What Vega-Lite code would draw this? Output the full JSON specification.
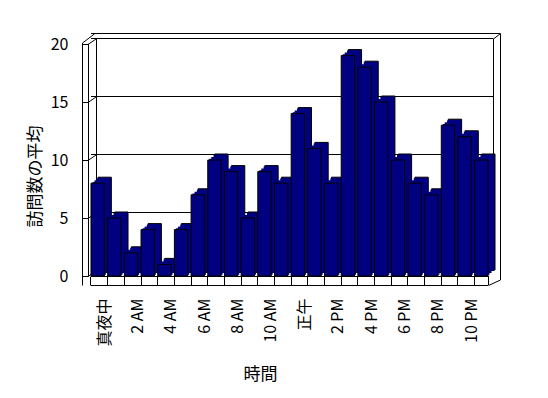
{
  "$schema": "https://vega.github.io/schema/vega-lite/v6.json",
  "width": 397,
  "height": 232,
  "autosize": {"type": "none"},
  "padding": {"left": 91, "top": 44, "right": 60, "bottom": 122},
  "background": "white",
  "config": {"view": {"stroke": null}, "font": "Noto Sans CJK JP"},
  "datasets": {
    "visits": [
      {"時刻": "真夜中", "訪問数": 8},
      {"時刻": "1 AM", "訪問数": 5},
      {"時刻": "2 AM", "訪問数": 2},
      {"時刻": "3 AM", "訪問数": 4},
      {"時刻": "4 AM", "訪問数": 1},
      {"時刻": "5 AM", "訪問数": 4},
      {"時刻": "6 AM", "訪問数": 7},
      {"時刻": "7 AM", "訪問数": 10},
      {"時刻": "8 AM", "訪問数": 9},
      {"時刻": "9 AM", "訪問数": 5},
      {"時刻": "10 AM", "訪問数": 9},
      {"時刻": "11 AM", "訪問数": 8},
      {"時刻": "正午", "訪問数": 14},
      {"時刻": "1 PM", "訪問数": 11},
      {"時刻": "2 PM", "訪問数": 8},
      {"時刻": "3 PM", "訪問数": 19},
      {"時刻": "4 PM", "訪問数": 18},
      {"時刻": "5 PM", "訪問数": 15},
      {"時刻": "6 PM", "訪問数": 10},
      {"時刻": "7 PM", "訪問数": 8},
      {"時刻": "8 PM", "訪問数": 7},
      {"時刻": "9 PM", "訪問数": 13},
      {"時刻": "10 PM", "訪問数": 12},
      {"時刻": "11 PM", "訪問数": 10}
    ],
    "grid": [{"v": 0}, {"v": 5}, {"v": 10}, {"v": 15}, {"v": 20}],
    "one": [{"k": 1}]
  },
  "layer": [
    {
      "data": {"name": "visits"},
      "mark": {"type": "bar", "fill": "#000080", "stroke": "black", "strokeWidth": 1, "opacity": 0},
      "encoding": {
        "x": {
          "field": "時刻",
          "type": "nominal",
          "sort": null,
          "scale": {
            "domain": ["真夜中", "1 AM", "2 AM", "3 AM", "4 AM", "5 AM", "6 AM", "7 AM", "8 AM", "9 AM", "10 AM", "11 AM", "正午", "1 PM", "2 PM", "3 PM", "4 PM", "5 PM", "6 PM", "7 PM", "8 PM", "9 PM", "10 PM", "11 PM"],
            "paddingInner": 0.2,
            "paddingOuter": 0
          },
          "axis": {
            "title": "時間",
            "titleFontSize": 17,
            "titleFontWeight": "normal",
            "titleColor": "black",
            "titleX": 169,
            "titleY": 89,
            "titleAnchor": null,
            "titleAlign": "center",
            "titleBaseline": "middle",
            "offset": 9,
            "domain": false,
            "bandPosition": 0,
            "tickSize": -9,
            "tickColor": "black",
            "labelAngle": -90,
            "labelAlign": "right",
            "labelBaseline": "middle",
            "labelOffset": 7,
            "labelPadding": 22,
            "labelFontSize": 16,
            "labelColor": "black",
            "labelExpr": "indexof(['1 AM','3 AM','5 AM','7 AM','9 AM','11 AM','1 PM','3 PM','5 PM','7 PM','9 PM','11 PM'], datum.value) >= 0 ? '' : datum.value"
          }
        },
        "y": {
          "field": "訪問数",
          "type": "quantitative",
          "scale": {"domain": [0, 20]},
          "axis": {
            "title": "訪問数の平均",
            "titleFontSize": 17,
            "titleFontWeight": "normal",
            "titleColor": "black",
            "titlePadding": 6,
            "titleY": 132,
            "offset": 9,
            "domain": false,
            "grid": false,
            "values": [0, 5, 10, 15, 20],
            "tickSize": -6,
            "tickColor": "black",
            "labelPadding": 20,
            "labelFontSize": 16,
            "labelColor": "black"
          }
        }
      }
    },
    {
      "data": {"name": "grid"},
      "mark": {"type": "rule", "color": "black", "strokeWidth": 1, "xOffset": 5, "x2Offset": 5, "yOffset": -5.5},
      "encoding": {
        "y": {"field": "v", "type": "quantitative"}
      }
    },
    {
      "data": {"name": "grid"},
      "mark": {"type": "rule", "color": "black", "strokeWidth": 1, "xOffset": -3, "x2Offset": 5, "yOffset": 0.5, "y2Offset": -5},
      "encoding": {
        "x": {"datum": "真夜中", "type": "nominal", "bandPosition": 0},
        "x2": {"datum": "真夜中", "bandPosition": 0},
        "y": {"field": "v", "type": "quantitative"},
        "y2": {"field": "v"}
      }
    },
    {
      "data": {"name": "one"},
      "mark": {"type": "rule", "color": "black", "strokeWidth": 1, "xOffset": -8.5, "yOffset": 9.5, "y2Offset": -1},
      "encoding": {
        "x": {"datum": "真夜中", "type": "nominal", "bandPosition": 0},
        "y": {"datum": 0, "type": "quantitative"},
        "y2": {"datum": 20}
      }
    },
    {
      "data": {"name": "one"},
      "mark": {"type": "rule", "color": "black", "strokeWidth": 1, "xOffset": -2.5},
      "encoding": {
        "x": {"datum": "真夜中", "type": "nominal", "bandPosition": 0},
        "y": {"datum": 0, "type": "quantitative"},
        "y2": {"datum": 20}
      }
    },
    {
      "data": {"name": "one"},
      "mark": {"type": "rule", "color": "black", "strokeWidth": 1, "xOffset": 5.5, "yOffset": -5, "y2Offset": -5.5},
      "encoding": {
        "x": {"datum": "真夜中", "type": "nominal", "bandPosition": 0},
        "y": {"datum": 0, "type": "quantitative"},
        "y2": {"datum": 20}
      }
    },
    {
      "data": {"name": "one"},
      "mark": {"type": "rule", "color": "black", "strokeWidth": 1, "xOffset": 5.5, "yOffset": -5, "y2Offset": -5.5},
      "encoding": {
        "x": {"datum": "11 PM", "type": "nominal", "bandPosition": 1},
        "y": {"datum": 0, "type": "quantitative"},
        "y2": {"datum": 20}
      }
    },
    {
      "data": {"name": "one"},
      "mark": {"type": "rule", "color": "black", "strokeWidth": 1, "xOffset": 12.5, "yOffset": 4, "y2Offset": -10.5},
      "encoding": {
        "x": {"datum": "11 PM", "type": "nominal", "bandPosition": 1},
        "y": {"datum": 0, "type": "quantitative"},
        "y2": {"datum": 20}
      }
    },
    {
      "data": {"name": "one"},
      "mark": {"type": "rule", "color": "black", "strokeWidth": 1, "xOffset": 0.5, "yOffset": 0, "y2Offset": 9},
      "encoding": {
        "x": {"datum": "11 PM", "type": "nominal", "bandPosition": 1},
        "y": {"datum": 0, "type": "quantitative"},
        "y2": {"datum": 0}
      }
    },
    {
      "data": {"name": "one"},
      "mark": {"type": "rule", "color": "black", "strokeWidth": 1, "xOffset": 0.5, "x2Offset": 12.5, "yOffset": 9.5, "y2Offset": 4},
      "encoding": {
        "x": {"datum": "11 PM", "type": "nominal", "bandPosition": 1},
        "x2": {"datum": "11 PM", "bandPosition": 1},
        "y": {"datum": 0, "type": "quantitative"},
        "y2": {"datum": 0}
      }
    },
    {
      "data": {"name": "one"},
      "mark": {"type": "rule", "color": "black", "strokeWidth": 1, "xOffset": 5.5, "x2Offset": 12.5, "yOffset": -5, "y2Offset": -10.5},
      "encoding": {
        "x": {"datum": "11 PM", "type": "nominal", "bandPosition": 1},
        "x2": {"datum": "11 PM", "bandPosition": 1},
        "y": {"datum": 20, "type": "quantitative"},
        "y2": {"datum": 20}
      }
    },
    {
      "data": {"name": "one"},
      "mark": {"type": "rule", "color": "black", "strokeWidth": 1, "xOffset": 12, "x2Offset": 4, "yOffset": -10.5},
      "encoding": {
        "y": {"datum": 20, "type": "quantitative"}
      }
    },
    {
      "data": {"name": "one"},
      "mark": {"type": "rule", "color": "black", "strokeWidth": 1, "xOffset": 0, "x2Offset": -9, "yOffset": 9.5},
      "encoding": {
        "y": {"datum": 0, "type": "quantitative"}
      }
    },
    {
      "data": {"name": "one"},
      "mark": {"type": "rule", "color": "black", "strokeWidth": 1, "xOffset": -8.5, "x2Offset": 4, "yOffset": -1, "y2Offset": -10.5},
      "encoding": {
        "x": {"datum": "真夜中", "type": "nominal", "bandPosition": 0},
        "x2": {"datum": "真夜中", "bandPosition": 0},
        "y": {"datum": 20, "type": "quantitative"},
        "y2": {"datum": 20}
      }
    },
    {
      "data": {"name": "visits"},
      "mark": {"type": "bar", "fill": "#000080", "stroke": "black", "strokeWidth": 1, "xOffset": 7, "yOffset": -6, "y2Offset": -6},
      "encoding": {
        "x": {"field": "時刻", "type": "nominal", "sort": null},
        "y": {"field": "訪問数", "type": "quantitative"}
      }
    },
    {
      "data": {"name": "visits"},
      "mark": {"type": "bar", "fill": "#000080", "strokeWidth": 0, "xOffset": 5.8, "yOffset": -5, "y2Offset": -5},
      "encoding": {
        "x": {"field": "時刻", "type": "nominal", "sort": null},
        "y": {"field": "訪問数", "type": "quantitative"}
      }
    },
    {
      "data": {"name": "visits"},
      "mark": {"type": "bar", "fill": "#000080", "strokeWidth": 0, "xOffset": 3.5, "yOffset": -3, "y2Offset": -3},
      "encoding": {
        "x": {"field": "時刻", "type": "nominal", "sort": null},
        "y": {"field": "訪問数", "type": "quantitative"}
      }
    },
    {
      "data": {"name": "visits"},
      "mark": {"type": "bar", "fill": "#000080", "strokeWidth": 0, "xOffset": 1.5, "yOffset": -1.3, "y2Offset": -1.3},
      "encoding": {
        "x": {"field": "時刻", "type": "nominal", "sort": null},
        "y": {"field": "訪問数", "type": "quantitative"}
      }
    },
    {
      "data": {"name": "visits"},
      "mark": {"type": "bar", "fill": "#000080", "stroke": "black", "strokeWidth": 1},
      "encoding": {
        "x": {"field": "時刻", "type": "nominal", "sort": null},
        "y": {"field": "訪問数", "type": "quantitative"}
      }
    },
    {
      "data": {"name": "one"},
      "mark": {"type": "rule", "color": "black", "strokeWidth": 1, "xOffset": 0, "x2Offset": -3, "yOffset": 0.5},
      "encoding": {
        "y": {"datum": 0, "type": "quantitative"}
      }
    }
  ]
}
